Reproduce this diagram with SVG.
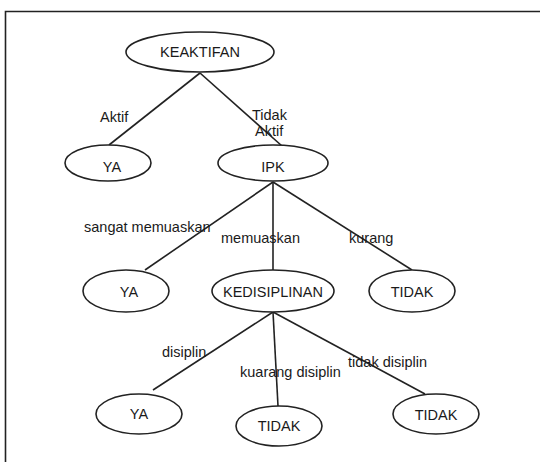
<svg xmlns="http://www.w3.org/2000/svg" width="540" height="462" viewBox="0 0 540 462">
<style>
.n{fill:#fff;stroke:#222;stroke-width:1.6}
.e{stroke:#222;stroke-width:1.6;fill:none}
.t{font-family:"Liberation Sans",Arial,sans-serif;font-size:14.5px;fill:#1a1a1a}
.c{text-anchor:middle}
</style>
<rect width="540" height="462" fill="#fff"/>
<g id="frame"><path class="e" d="M5.5,462V11.5H540"/></g>
<g id="connectors">
<line class="e" x1="200" y1="73" x2="109" y2="145"/>
<line class="e" x1="200" y1="73" x2="282" y2="146"/>
<line class="e" x1="273" y1="182" x2="145" y2="270"/>
<line class="e" x1="273" y1="182" x2="273" y2="270"/>
<line class="e" x1="273" y1="182" x2="412" y2="270"/>
<line class="e" x1="273" y1="312" x2="153" y2="390"/>
<line class="e" x1="273" y1="312" x2="278" y2="406"/>
<line class="e" x1="273" y1="312" x2="425" y2="394"/>
<text class="t" x="100" y="122">Aktif</text>
<text class="t" x="252" y="120">Tidak</text>
<text class="t" x="255" y="136">Aktif</text>
<text class="t" x="84" y="232">sangat memuaskan</text>
<text class="t" x="221" y="243">memuaskan</text>
<text class="t" x="349" y="243">kurang</text>
<text class="t" x="162" y="357">disiplin</text>
<text class="t" x="240" y="377">kuarang disiplin</text>
<text class="t" x="348" y="367">tidak disiplin</text>
</g>
<g id="keaktifan"><ellipse class="n" cx="200" cy="52" rx="74" ry="20"/><text class="t c" x="200" y="57">KEAKTIFAN</text></g>
<g id="ya1"><ellipse class="n" cx="108" cy="163" rx="43" ry="18"/><text class="t c" x="112" y="172">YA</text></g>
<g id="ipk"><ellipse class="n" cx="273" cy="163" rx="55" ry="18"/><text class="t c" x="273" y="172">IPK</text></g>
<g id="ya2"><ellipse class="n" cx="126" cy="291" rx="43" ry="21"/><text class="t c" x="129" y="297">YA</text></g>
<g id="kedisiplinan"><ellipse class="n" cx="273" cy="291" rx="61" ry="21"/><text class="t c" x="273" y="297">KEDISIPLINAN</text></g>
<g id="tidak1"><ellipse class="n" cx="412" cy="291" rx="43" ry="21"/><text class="t c" x="412" y="297">TIDAK</text></g>
<g id="ya3"><ellipse class="n" cx="139" cy="414" rx="43" ry="20"/><text class="t c" x="139" y="419">YA</text></g>
<g id="tidak2"><ellipse class="n" cx="279" cy="426" rx="43" ry="20"/><text class="t c" x="279" y="431">TIDAK</text></g>
<g id="tidak3"><ellipse class="n" cx="436" cy="414" rx="43" ry="20"/><text class="t c" x="436" y="420">TIDAK</text></g>
</svg>
